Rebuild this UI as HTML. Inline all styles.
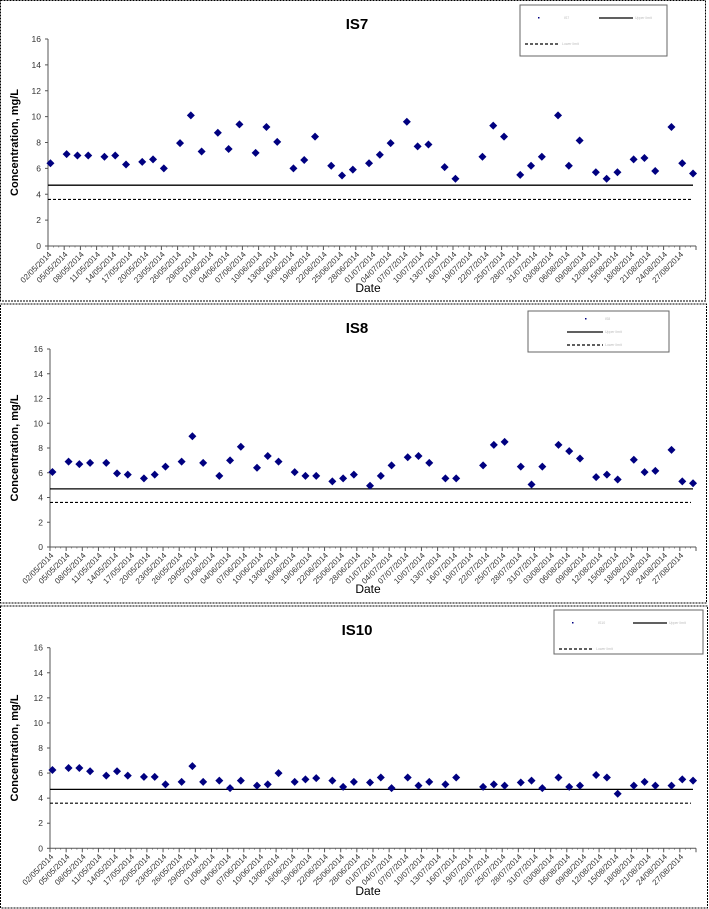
<!DOCTYPE html>
<html><head><meta charset="utf-8"><style>
html,body{margin:0;padding:0;background:#fff;}
svg{display:block;font-family:"Liberation Sans",Arial,sans-serif;}
</style></head><body>
<svg id="chart" width="709" height="909" viewBox="0 0 709 909" xmlns="http://www.w3.org/2000/svg"></svg>
<script>
// Sampling day offsets from 02/05/2014
const sampleDays = [0,3,5,7,10,12,14,17,19,21,24,26,28,31,33,35,38,40,42,45,47,49,52,54,56,59,61,63,66,68,70,73,75,80,82,84,87,89,91,94,96,98,101,103,105,108,110,112,115,117,119];
const tickLabels = ["02/05/2014","05/05/2014","08/05/2014","11/05/2014","14/05/2014","17/05/2014","20/05/2014","23/05/2014","26/05/2014","29/05/2014","01/06/2014","04/06/2014","07/06/2014","10/06/2014","13/06/2014","16/06/2014","19/06/2014","22/06/2014","25/06/2014","28/06/2014","01/07/2014","04/07/2014","07/07/2014","10/07/2014","13/07/2014","16/07/2014","19/07/2014","22/07/2014","25/07/2014","28/07/2014","31/07/2014","03/08/2014","06/08/2014","09/08/2014","12/08/2014","15/08/2014","18/08/2014","21/08/2014","24/08/2014","27/08/2014"];
const yTicks = [0,2,4,6,8,10,12,14,16];
const is7 = [6.4,7.1,7.0,7.0,6.9,7.0,6.3,6.5,6.7,6.0,7.95,10.1,7.3,8.75,7.5,9.4,7.2,9.2,8.05,6.0,6.65,8.45,6.2,5.45,5.9,6.4,7.05,7.95,9.6,7.7,7.85,6.1,5.2,6.9,9.3,8.45,5.5,6.2,6.9,10.1,6.2,8.15,5.7,5.2,5.7,6.7,6.8,5.8,9.2,6.4,5.6];
const is8 = [6.06,6.9,6.7,6.8,6.8,5.95,5.85,5.55,5.85,6.5,6.9,8.95,6.8,5.75,7.0,8.1,6.4,7.35,6.9,6.05,5.75,5.75,5.3,5.55,5.85,4.95,5.75,6.6,7.25,7.35,6.8,5.55,5.55,6.6,8.25,8.5,6.5,5.05,6.5,8.25,7.75,7.15,5.65,5.85,5.45,7.05,6.05,6.15,7.85,5.3,5.15];
const is10 = [6.25,6.4,6.4,6.15,5.8,6.15,5.8,5.7,5.7,5.1,5.3,6.55,5.3,5.4,4.8,5.4,5.0,5.1,6.0,5.3,5.5,5.6,5.4,4.9,5.3,5.25,5.65,4.8,5.65,5.0,5.3,5.1,5.65,4.9,5.1,5.0,5.25,5.4,4.8,5.65,4.9,5.0,5.85,5.65,4.35,5.0,5.3,5.0,5.0,5.5,5.4];
const upperLimit = [4.7,4.7,4.7];
const lowerLimit = [3.6,3.6,3.6];
const panelNames = ["IS7","IS8","IS10"];

const NS="http://www.w3.org/2000/svg";
const svg=document.getElementById('chart');
function mk(tag,attrs,parent){const e=document.createElementNS(NS,tag);for(const k in attrs)e.setAttribute(k,attrs[k]);(parent||svg).appendChild(e);return e;}

const layouts=[
 {top:0.5,bot:301,y16:39,y0:246,x0:48,x1:696,titleY:29,dateY:292,right:705,leg:{x:520,y:5,w:147,h:51,rows:2}},
 {top:304,bot:603,y16:349,y0:547,x0:50,x1:696,titleY:333,dateY:593,right:706,leg:{x:528,y:311,w:141,h:41,rows:3}},
 {top:606,bot:908,y16:647.7,y0:848.3,x0:50,x1:696,titleY:635,dateY:895,right:707,leg:{x:554,y:610,w:149,h:44,rows:2}}
];
const series=[is7,is8,is10];
const totalDays=120;

layouts.forEach((L,pi)=>{
 const g=mk('g',{});
 
 
 const border=mk('rect',{x:0.5,y:L.top,width:L.right,height:L.bot-L.top,fill:'none',stroke:'#000','stroke-width':1,'stroke-dasharray':'2,1'},g);
 
 
 const xs=d=>L.x0+d*(L.x1-L.x0)/totalDays;
 const ys=v=>L.y0-v*(L.y0-L.y16)/16;
 const t=mk('text',{x:357,y:L.titleY,'text-anchor':'middle','font-size':15,'font-weight':'bold',fill:'#000'},g);
 t.textContent=panelNames[pi];
 
 
 // y axis
 const ya=mk('g',{},g);
 
 
 mk('line',{x1:L.x0,y1:L.y16,x2:L.x0,y2:L.y0,stroke:'#555','stroke-width':1},ya);
 yTicks.forEach(v=>{
  mk('line',{x1:L.x0-3,y1:ys(v),x2:L.x0,y2:ys(v),stroke:'#555'},ya);
  const tl=mk('text',{x:L.x0-7,y:ys(v)+3,'text-anchor':'end','font-size':8.5,fill:'#333'},ya);
  tl.textContent=v;
  
  
 });
 const yt=mk('text',{x:0,y:0,'text-anchor':'middle','font-size':11,'font-weight':'bold',fill:'#000',transform:`translate(18,${(L.y16+L.y0)/2}) rotate(-90)`},g);
 yt.textContent='Concentration, mg/L';
 
 
 // x axis
 const xa=mk('g',{},g);
 
 
 mk('line',{x1:L.x0,y1:L.y0,x2:L.x1,y2:L.y0,stroke:'#555'},xa);
 for(let d=0;d<=totalDays;d++){
  const major=d%3===0;
  mk('line',{x1:xs(d),y1:L.y0,x2:xs(d),y2:L.y0+(major?4:1.5),stroke:'#555','stroke-width':major?1:0.6},xa);
 }
 tickLabels.forEach((lab,i)=>{
  const x=xs(i*3)+4,y=L.y0+9;
  const tl=mk('text',{x:0,y:0,'text-anchor':'end','font-size':8,fill:'#333',transform:`translate(${x},${y}) rotate(-45)`},xa);
  tl.textContent=lab;
  
  
 });
 const dt=mk('text',{x:368,y:L.dateY,'text-anchor':'middle','font-size':12,fill:'#000'},g);
 dt.textContent='Date';
 
 
 // limit lines
 const ul=mk('line',{x1:L.x0,y1:ys(upperLimit[pi]),x2:L.x1-3,y2:ys(upperLimit[pi]),stroke:'#000','stroke-width':1.3},g);
 
 
 const ll=mk('line',{x1:L.x0,y1:ys(lowerLimit[pi]),x2:L.x1-5,y2:ys(lowerLimit[pi]),stroke:'#000','stroke-width':1.2,'stroke-dasharray':'3,2'},g);
 
 
 // points
 const pts=mk('g',{},g);
 
 
 series[pi].forEach((v,i)=>{
  const cx=xs(sampleDays[i]+0.45),cy=ys(v);
  const p=mk('polygon',{points:`${cx},${cy-4} ${cx+4},${cy} ${cx},${cy+4} ${cx-4},${cy}`,fill:'#000080'},pts);
  
  
 });
 // legend
 const lg=mk('g',{},g);
 
 
 const Lg=L.leg;
 mk('rect',{x:Lg.x,y:Lg.y,width:Lg.w,height:Lg.h,fill:'#fff',stroke:'#666','stroke-width':1},lg);
 function legText(x,y,s){const e=mk('text',{x:x,y:y,'font-size':3.5,fill:'#bbb'},lg);e.textContent=s;}
 if(Lg.rows===2){
  mk('rect',{x:Lg.x+18,y:Lg.y+12,width:1.5,height:1.5,fill:'#000080'},lg);legText(Lg.x+44,Lg.y+14,panelNames[pi]);
  mk('line',{x1:Lg.x+79,y1:Lg.y+13,x2:Lg.x+113,y2:Lg.y+13,stroke:'#000','stroke-width':1.3},lg);legText(Lg.x+115,Lg.y+14,'Upper limit');
  mk('line',{x1:Lg.x+5,y1:Lg.y+39,x2:Lg.x+40,y2:Lg.y+39,stroke:'#000','stroke-width':1.2,'stroke-dasharray':'3,2'},lg);legText(Lg.x+42,Lg.y+40,'Lower limit');
 } else {
  mk('rect',{x:Lg.x+57,y:Lg.y+7,width:1.5,height:1.5,fill:'#000080'},lg);legText(Lg.x+77,Lg.y+9,panelNames[pi]);
  mk('line',{x1:Lg.x+39,y1:Lg.y+21,x2:Lg.x+75,y2:Lg.y+21,stroke:'#000','stroke-width':1.3},lg);legText(Lg.x+77,Lg.y+22,'Upper limit');
  mk('line',{x1:Lg.x+39,y1:Lg.y+34,x2:Lg.x+75,y2:Lg.y+34,stroke:'#000','stroke-width':1.2,'stroke-dasharray':'3,2'},lg);legText(Lg.x+77,Lg.y+35,'Lower limit');
 }
});
</script>
</body></html>
